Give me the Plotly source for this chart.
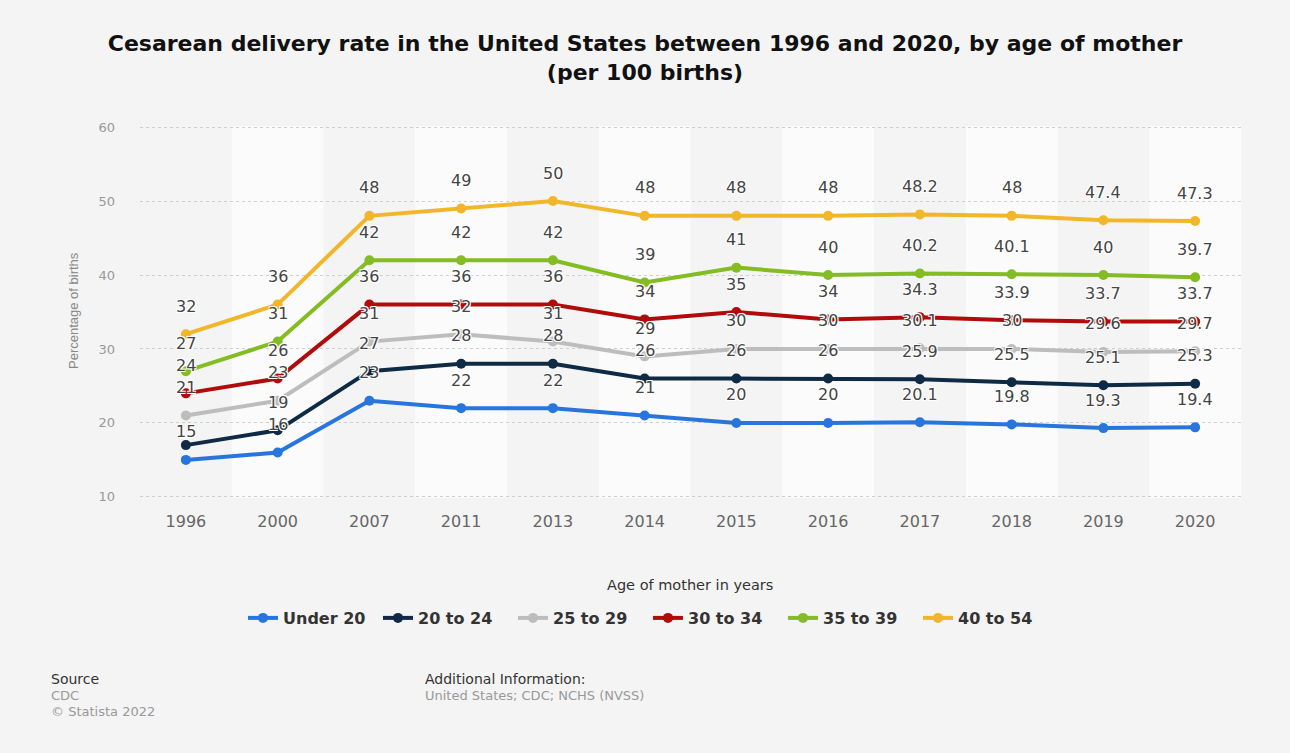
import plotly.graph_objects as go

years = ["1996", "2000", "2007", "2011", "2013", "2014", "2015", "2016", "2017", "2018", "2019", "2020"]

under_20 = [15, 16, 23, 22, 22, 21, 20, 20, 20.1, 19.8, 19.3, 19.4]
age_20_24 = [17, 19, 27, 28, 28, 26, 26, 26, 25.9, 25.5, 25.1, 25.3]
age_25_29 = [21, 23, 31, 32, 31, 29, 30, 30, 30.1, 30, 29.6, 29.7]
age_30_34 = [24, 26, 36, 36, 36, 34, 35, 34, 34.3, 33.9, 33.7, 33.7]
age_35_39 = [27, 31, 42, 42, 42, 39, 41, 40, 40.2, 40.1, 40, 39.7]
age_40_54 = [32, 36, 48, 49, 50, 48, 48, 48, 48.2, 48, 47.4, 47.3]

series_names = ["Under 20", "20 to 24", "25 to 29", "30 to 34", "35 to 39", "40 to 54"]
series_values = [under_20, age_20_24, age_25_29, age_30_34, age_35_39, age_40_54]
series_colors = ["#2876dd", "#0f2a44", "#bdbdbd", "#b00c0c", "#84bc24", "#f2b62a"]
# data labels hidden in the reference (overlapping): (series index, year index)
hidden_labels = {(1, 0)}

# layout geometry (pixels)
W, H = 1290, 753
L, R, T, B = 140, 49, 126, 255
PW = W - L - R
PH = H - T - B


def px(x):
    return (x - L) / PW


def py(y):
    return (H - B - y) / PH


def fmt(v):
    return ("%g" % v)


fig = go.Figure()

for name, vals, col in zip(series_names, series_values, series_colors):
    fig.add_trace(go.Scatter(
        x=years, y=vals, name=name, mode="lines+markers",
        line=dict(color=col, width=4),
        marker=dict(color=col, size=10),
        hoverinfo="x+y+name",
    ))

annotations = []
outline = "-1px -1px 0 #fff, 1px -1px 0 #fff, -1px 1px 0 #fff, 1px 1px 0 #fff"
for si, vals in enumerate(series_values):
    for yi, v in enumerate(vals):
        if (si, yi) in hidden_labels:
            continue
        annotations.append(dict(
            x=yi, y=v, xref="x", yref="y", text=fmt(v),
            showarrow=False, yshift=28, xanchor="center", yanchor="middle",
            font=dict(family="DejaVu Sans", size=16, color="#444444", shadow=outline),
        ))

# alternating column bands
shapes = []
for i in range(len(years)):
    if i % 2 == 1:
        shapes.append(dict(
            type="rect", xref="x", yref="paper", x0=i - 0.5, x1=i + 0.5, y0=0, y1=1,
            fillcolor="#fbfbfb", line=dict(width=0), layer="below",
        ))

# axis titles and footer
annotations.append(dict(
    text="Percentage of births", xref="paper", yref="paper", x=px(73), y=py(311),
    textangle=-90, showarrow=False, xanchor="center", yanchor="middle",
    font=dict(family="Liberation Sans, Arial", size=13, color="#888888"),
))
annotations.append(dict(
    text="Age of mother in years", xref="paper", yref="paper", x=px(690), y=py(585),
    showarrow=False, xanchor="center", yanchor="middle",
    font=dict(family="DejaVu Sans", size=14.5, color="#333333"),
))
foot = [
    ("Source", 49, 679, "#333333", 14),
    ("CDC", 49, 695, "#999999", 13),
    ("© Statista 2022", 49, 711, "#999999", 13),
    ("Additional Information:", 423, 679, "#333333", 14),
    ("United States; CDC; NCHS (NVSS)", 423, 695, "#999999", 13),
]
for txt, x, y, c, s in foot:
    annotations.append(dict(
        text=txt, xref="paper", yref="paper", x=px(x), y=py(y),
        showarrow=False, xanchor="left", yanchor="middle",
        font=dict(family="DejaVu Sans", size=s, color=c),
    ))

fig.update_layout(
    width=W, height=H,
    margin=dict(l=L, r=R, t=T, b=B),
    paper_bgcolor="#f4f4f4",
    plot_bgcolor="#f4f4f4",
    title=dict(
        text="<b>Cesarean delivery rate in the United States between 1996 and 2020, by age of mother<br>(per 100 births)</b>",
        x=0.5, xref="container", xanchor="center",
        y=1 - 51 / H, yref="container", yanchor="middle",
        font=dict(family="DejaVu Sans", size=22, color="#111111"),
    ),
    xaxis=dict(
        type="category", range=[-0.5, len(years) - 0.5],
        showgrid=False, zeroline=False, showline=False,
        tickfont=dict(family="DejaVu Sans", size=16, color="#666666"),
        ticklabelstandoff=12,
    ),
    yaxis=dict(
        range=[9.85, 60.15], tickvals=[10, 20, 30, 40, 50, 60],
        showgrid=True, gridcolor="#cfcfcf", griddash="dot", gridwidth=1,
        zeroline=False, showline=False,
        tickfont=dict(family="DejaVu Sans", size=13, color="#999999"),
        ticklabelstandoff=24,
    ),
    legend=dict(
        orientation="h", xref="container", x=648 / W, xanchor="center",
        yref="container", y=1 - 618 / H, yanchor="middle",
        font=dict(family="DejaVu Sans", size=16, color="#333333", weight="bold"),
        bgcolor="rgba(0,0,0,0)", entrywidth=90, entrywidthmode="pixels",
    ),
    shapes=shapes,
    annotations=annotations,
    showlegend=True,
)

fig.write_html("out.html")
